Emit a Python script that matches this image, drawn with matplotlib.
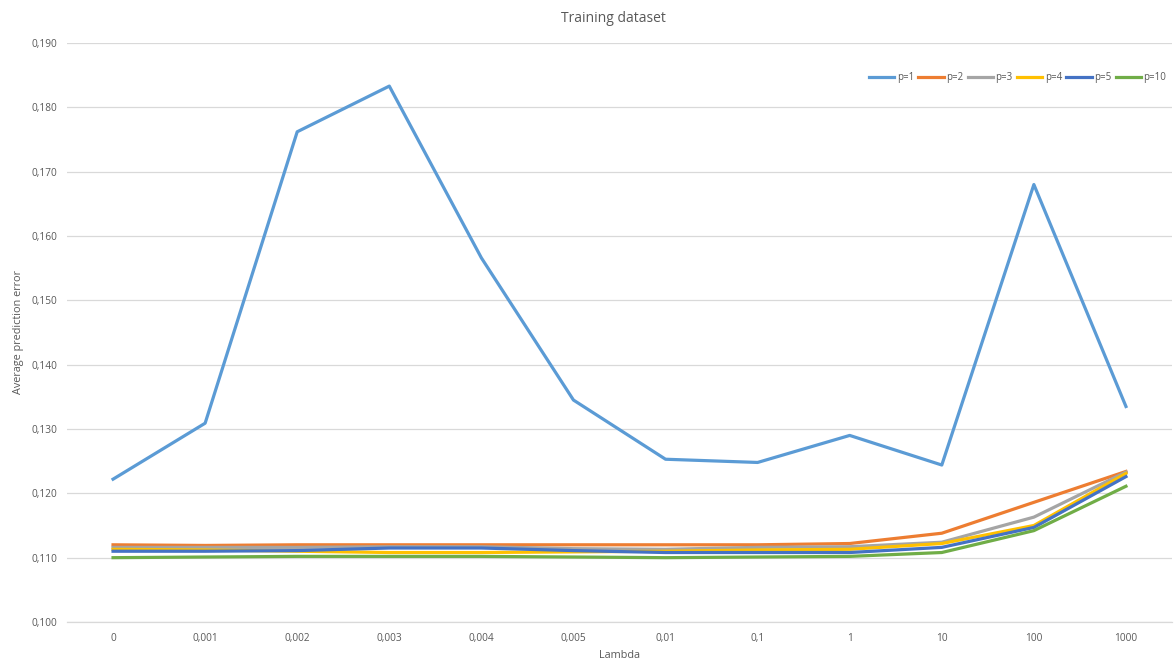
import matplotlib
matplotlib.use("Agg")
import matplotlib.pyplot as plt
from matplotlib.ticker import FuncFormatter

lambdas = ["0", "0,001", "0,002", "0,003", "0,004", "0,005", "0,01", "0,1", "1", "10", "100", "1000"]

p1 = [0.1222, 0.1309, 0.1762, 0.1833, 0.1566, 0.1345, 0.1253, 0.1248, 0.1290, 0.1244, 0.1680, 0.1335]
p2 = [0.1120, 0.1119, 0.1120, 0.1120, 0.1120, 0.1120, 0.1120, 0.1120, 0.1122, 0.1138, 0.1186, 0.1234]
p3 = [0.1116, 0.1116, 0.1116, 0.1117, 0.1117, 0.1114, 0.1113, 0.1116, 0.1117, 0.1124, 0.1163, 0.1233]
p4 = [0.1113, 0.1112, 0.1110, 0.1108, 0.1108, 0.1109, 0.1110, 0.1112, 0.1113, 0.1122, 0.1150, 0.1231]
p5 = [0.1110, 0.1110, 0.1111, 0.1115, 0.1115, 0.1111, 0.1108, 0.1108, 0.1108, 0.1116, 0.1147, 0.1226]
p10 = [0.1100, 0.1101, 0.1102, 0.1102, 0.1102, 0.1101, 0.1100, 0.1101, 0.1102, 0.1108, 0.1142, 0.1211]

series = [("p=1", p1), ("p=2", p2), ("p=3", p3), ("p=4", p4), ("p=5", p5), ("p=10", p10)]
colors = ["#5B9BD5", "#ED7D31", "#A5A5A5", "#FFC000", "#4472C4", "#70AD47"]

plt.rcParams["font.family"] = ["Open Sans", "DejaVu Sans"]
text_color = "#595959"

fig = plt.figure(figsize=(11.76, 6.66), dpi=100)
ax = fig.add_axes([67 / 1176, 1 - 622 / 666, (1172 - 67) / 1176, (622 - 43) / 666])

x = list(range(len(lambdas)))
for (name, vals), c in zip(series, colors):
    ax.plot(x, vals, color=c, lw=2.3, label=name, solid_joinstyle="round")

ax.set_xlim(-0.5, len(lambdas) - 0.5)
ax.set_ylim(0.100, 0.190)
ax.set_yticks([0.100 + 0.01 * i for i in range(10)])
ax.yaxis.set_major_formatter(FuncFormatter(lambda v, _: f"{v:.3f}".replace(".", ",")))
ax.set_xticks(x)
ax.set_xticklabels(lambdas)

ax.grid(axis="y", color="#d9d9d9", lw=0.9)
ax.set_axisbelow(True)
for s in ["top", "right", "left"]:
    ax.spines[s].set_visible(False)
ax.spines["bottom"].set_color("#d9d9d9")
ax.spines["bottom"].set_linewidth(0.9)
ax.tick_params(axis="both", length=0, labelsize=7.3, labelcolor=text_color)
ax.tick_params(axis="y", pad=7)
ax.tick_params(axis="x", pad=8)

ax.set_xlabel("Lambda", fontsize=7.8, color=text_color, labelpad=4)
ax.set_ylabel("Average prediction error", fontsize=7.8, color=text_color, labelpad=5)
fig.text(613 / 1176, 1 - 18 / 666, "Training dataset", ha="center", va="center",
         fontsize=10, color=text_color)

leg = ax.legend(loc="upper right", bbox_to_anchor=(1.0, 0.96), ncol=6, frameon=False,
                fontsize=7, handlelength=2.6, handletextpad=0.25, columnspacing=0.45,
                borderaxespad=0.2)
for t in leg.get_texts():
    t.set_color(text_color)

fig.savefig("out.png", dpi=100, facecolor="white")
